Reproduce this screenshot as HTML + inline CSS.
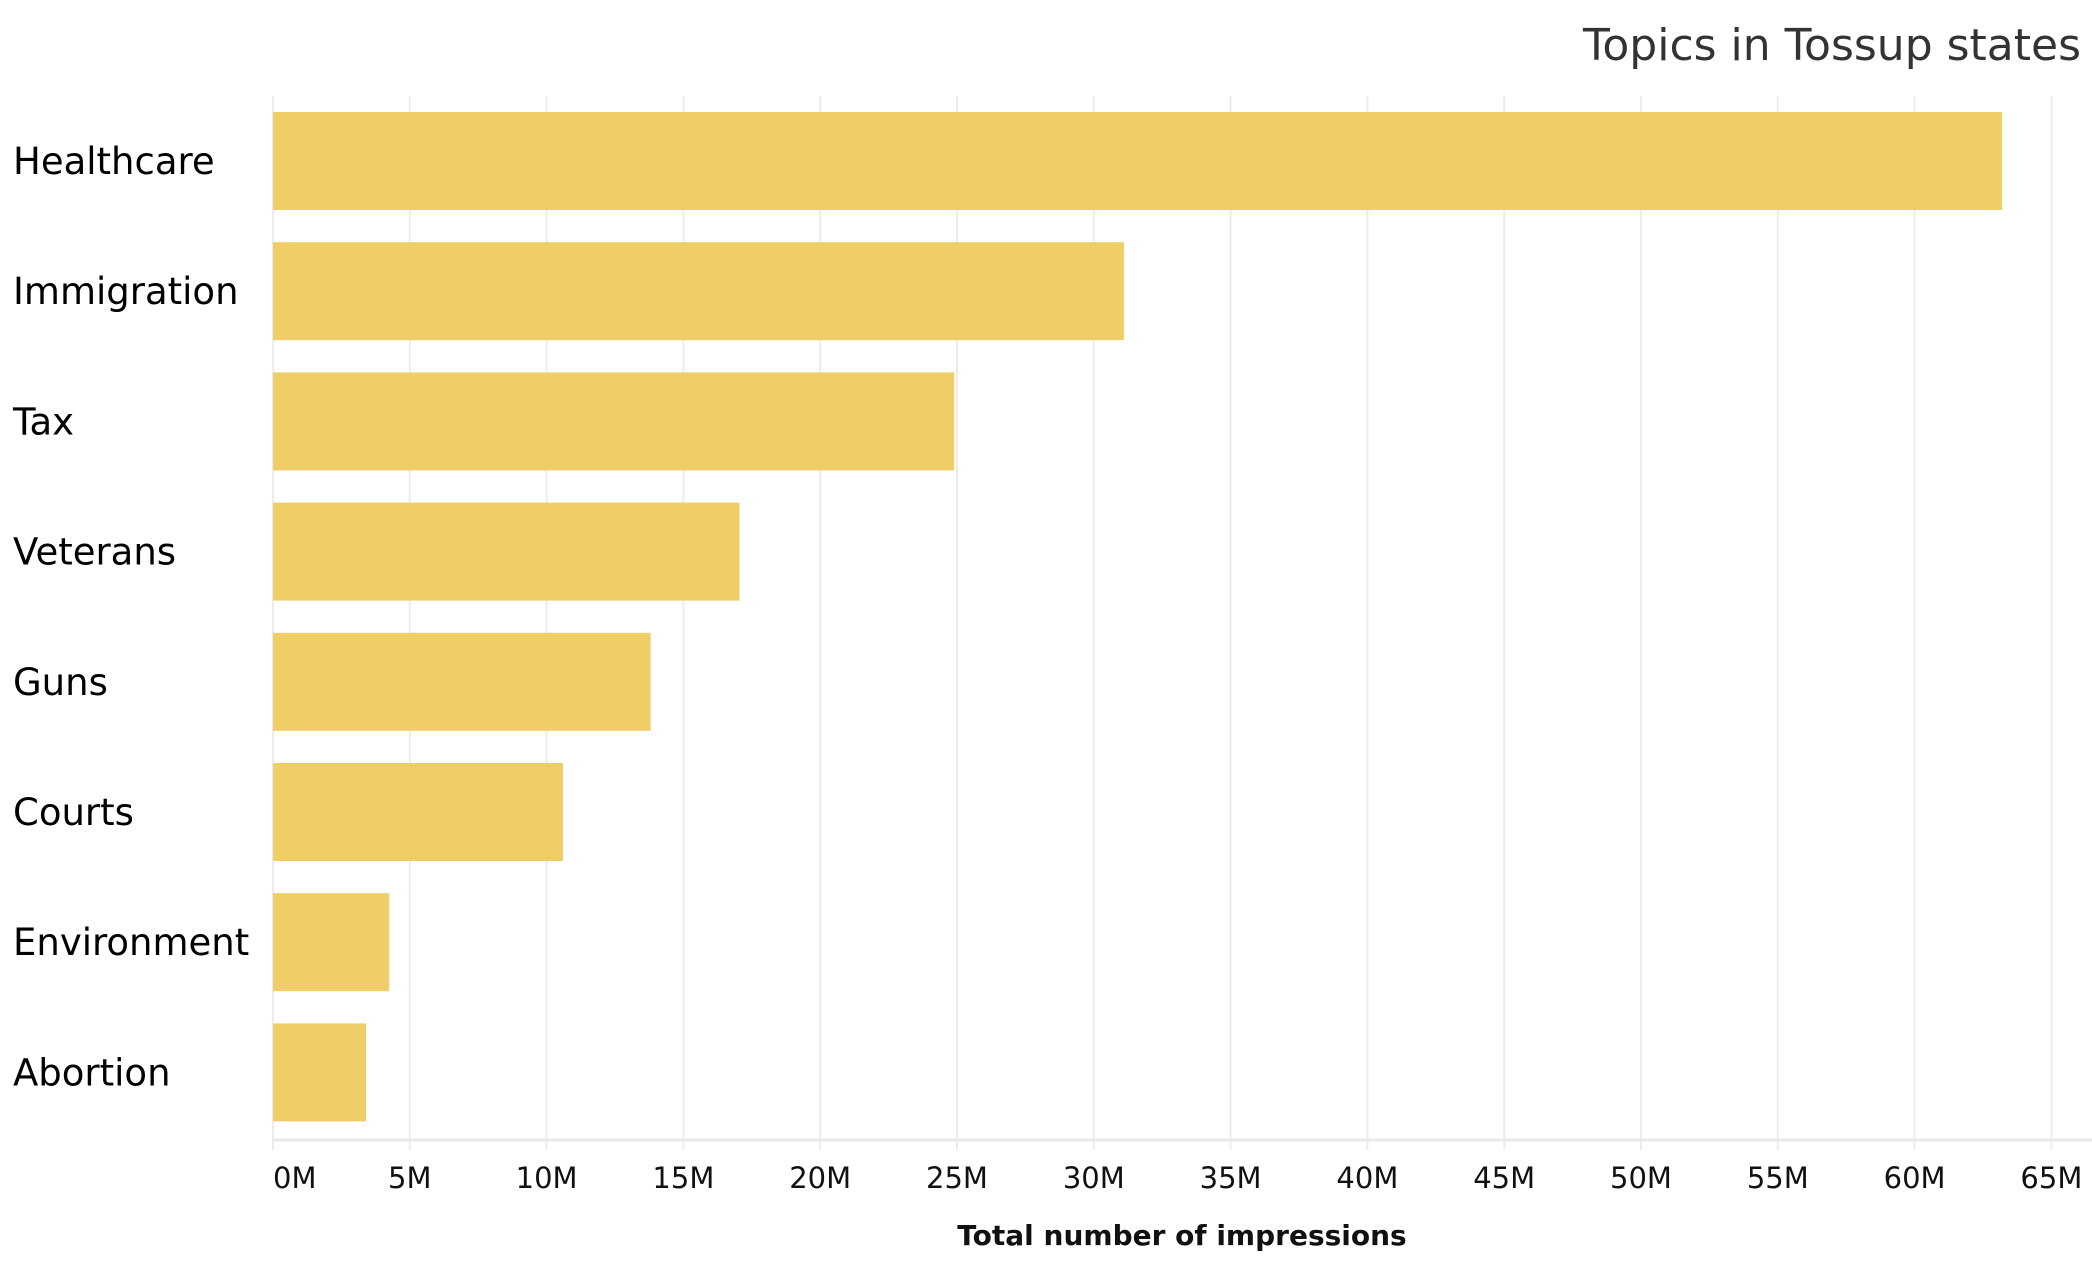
<!DOCTYPE html>
<html><head><meta charset="utf-8"><style>
body{margin:0;background:#fff;width:2092px;height:1270px;overflow:hidden;font-family:"DejaVu Sans","Liberation Sans",sans-serif;}
</style></head><body>
<svg width="2092" height="1270" id="chart" xmlns="http://www.w3.org/2000/svg">
<text x="2081" y="60" text-anchor="end" font-size="44" fill="#333">Topics in Tossup states</text>
</svg>
<script>
const categories=["Healthcare","Immigration","Tax","Veterans","Guns","Courts","Environment","Abortion"];
const values=[63.2,31.1,24.9,17.05,13.8,10.6,4.25,3.4];
const tickValues=[0,5,10,15,20,25,30,35,40,45,50,55,60,65];
const tickLabels=["0M","5M","10M","15M","20M","25M","30M","35M","40M","45M","50M","55M","60M","65M"];
const svg=document.getElementById('chart');
const NS='http://www.w3.org/2000/svg';
const x0=273,pxPer=136.8/5,top0=112,pitch=130.2,bh=98;
function xs(v){return x0+v*pxPer;}
function ys(i){return top0+i*pitch;}
function mk(t,a){const e=document.createElementNS(NS,t);for(const k in a)e.setAttribute(k,a[k]);svg.appendChild(e);return e;}
tickValues.forEach((v,i)=>{
  const g=mk('line',{x1:xs(v),x2:xs(v),y1:96,y2:1150,stroke:'#ececec','stroke-width':2});
  
  
  const t=mk('text',{x:i===0?xs(v):xs(v),y:1188,'text-anchor':i===0?'start':'middle','font-size':29,fill:'#111'});
  t.textContent=tickLabels[i];
  
  
});
const ax=mk('line',{x1:273,x2:2092,y1:1140,y2:1140,stroke:'#eaeaea','stroke-width':3});


categories.forEach((c,i)=>{
  const r=mk('rect',{x:x0,y:ys(i),width:xs(values[i])-x0,height:bh,fill:'#efcd67'});
  
  
  const t=mk('text',{x:13,y:ys(i)+bh/2+13,'font-size':37,fill:'#000'});
  t.textContent=c;
  
  
});
const at=mk('text',{x:1182,y:1245,'text-anchor':'middle','font-size':28,'font-weight':'bold',fill:'#111'});
at.textContent='Total number of impressions';


</script>
</body></html>
